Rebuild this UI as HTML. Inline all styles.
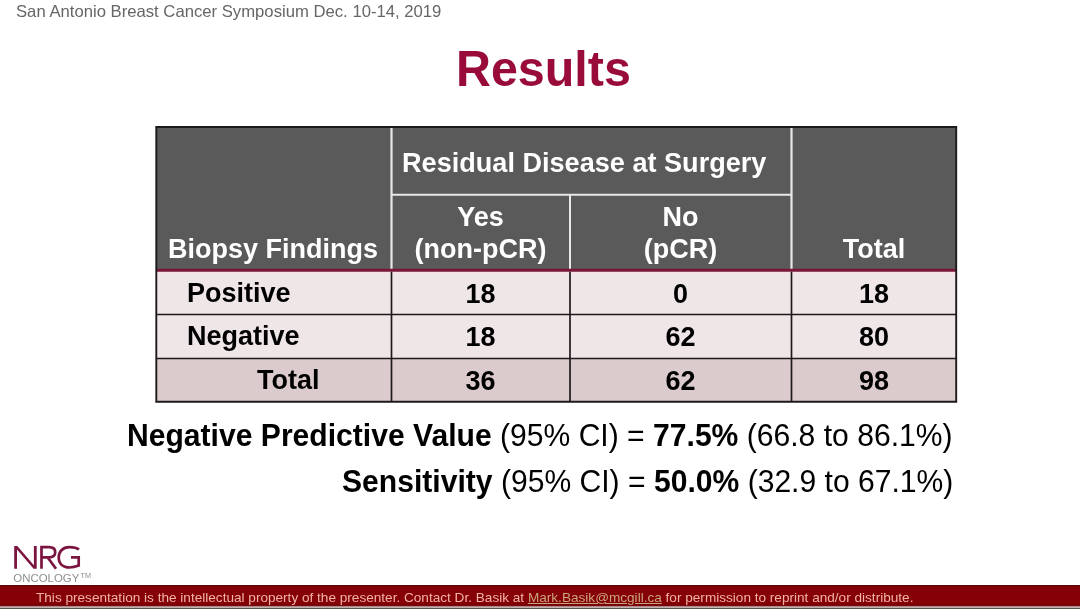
<!DOCTYPE html>
<html><head><meta charset="utf-8">
<style>
html,body{margin:0;padding:0;background:#fff;}
body{width:1080px;height:609px;position:relative;overflow:hidden;font-family:"Liberation Sans",sans-serif;}
.a{position:absolute;}
.t{position:absolute;white-space:nowrap;line-height:1;transform-origin:0 0.8467em;will-change:transform;}
.b{font-weight:bold;}
.w{color:#fff;}
.k{color:#000;}
.c{text-align:center;}
.tb{font-size:27px;font-weight:bold;transform:scaleY(1.04);}
</style></head><body>
<!-- header -->
<div class="t" style="left:16px;top:3.5px;font-size:16.68px;color:#666;">San Antonio Breast Cancer Symposium Dec. 10-14, 2019</div>
<div class="t b" style="left:456px;top:45.4px;font-size:48.4px;color:#990c3a;transform:scaleY(1.05);">Results</div>

<!-- table fills -->
<div class="a" style="left:156px;top:127px;width:800px;height:143px;background:#5a5a5a;"></div>
<div class="a" style="left:156px;top:271px;width:800px;height:88px;background:#efe6e8;"></div>
<div class="a" style="left:156px;top:359px;width:800px;height:43px;background:#dccbcd;"></div>
<!-- table lines -->
<svg class="a" style="left:0;top:0;" width="1080" height="609" viewBox="0 0 1080 609" shape-rendering="geometricPrecision">
 <g fill="none">
  <path stroke="#e8e8e8" stroke-width="2.2" d="M391.5 127 V269 M791.5 127 V269"/>
  <path stroke="#e8e8e8" stroke-width="2" d="M570 194.8 V269 M391.5 194.8 H791.5"/>
  <path stroke="#fbe2ea" stroke-width="1.6" d="M156 272.6 H956"/>
  <path stroke="#7a1636" stroke-width="2.9" d="M156 270.25 H956"/>
  <path stroke="#1e1a1c" stroke-width="1.7" d="M391.5 271.7 V401 M570 271.7 V401 M791.5 271.7 V401 M156 314.5 H956 M156 358.5 H956"/>
  <path stroke="#1e1a1c" stroke-width="1.9" d="M156.3 126 V402.8 M956.2 126 V402.8 M155.3 127.0 H957.2 M155.3 401.8 H957.2"/>
 </g>
</svg>

<!-- header text -->
<div class="t tb w" style="left:402px;top:148.5px;font-size:27.1px;">Residual Disease at Surgery</div>
<div class="t tb w" style="left:167.8px;top:235.8px;">Biopsy Findings</div>
<div class="t tb w c" style="left:391px;width:179px;top:203.5px;">Yes</div>
<div class="t tb w c" style="left:391px;width:179px;top:236px;">(non-pCR)</div>
<div class="t tb w c" style="left:570px;width:221px;top:203.5px;">No</div>
<div class="t tb w c" style="left:570px;width:221px;top:236px;">(pCR)</div>
<div class="t tb w c" style="left:791px;width:166px;top:235.5px;">Total</div>

<!-- body text -->
<div class="t tb k" style="left:187px;top:280px;">Positive</div>
<div class="t tb k" style="left:187px;top:323px;">Negative</div>
<div class="t tb k" style="left:257px;top:367px;">Total</div>
<div class="t tb k c" style="left:391px;width:179px;top:281px;">18</div>
<div class="t tb k c" style="left:391px;width:179px;top:324.3px;">18</div>
<div class="t tb k c" style="left:391px;width:179px;top:368px;">36</div>
<div class="t tb k c" style="left:570px;width:221px;top:281px;">0</div>
<div class="t tb k c" style="left:570px;width:221px;top:324.3px;">62</div>
<div class="t tb k c" style="left:570px;width:221px;top:368px;">62</div>
<div class="t tb k c" style="left:791px;width:166px;top:281px;">18</div>
<div class="t tb k c" style="left:791px;width:166px;top:324.3px;">80</div>
<div class="t tb k c" style="left:791px;width:166px;top:368px;">98</div>

<!-- stats -->
<div class="t k" style="right:127.6px;top:420.6px;font-size:30.1px;transform:scaleY(1.045);transform-origin:100% 0.8467em;"><b>Negative Predictive Value</b> (95% CI) = <b>77.5%</b> (66.8 to 86.1%)</div>
<div class="t k" style="right:126.3px;top:467.2px;font-size:30.1px;transform:scaleY(1.045);transform-origin:100% 0.8467em;"><b>Sensitivity</b> (95% CI) = <b>50.0%</b> (32.9 to 67.1%)</div>

<!-- logo -->
<svg class="a" style="left:0;top:530px;" width="110" height="55" viewBox="0 530 110 55">
 <path fill="#7c1440" d="M14.2 568.8 V546 H17.3 L33.9 565.2 V546 H36.7 V568.8 H33.6 L17 549.6 V568.8 Z"/>
 <g fill="none" stroke="#7c1440" stroke-width="2.7" stroke-linejoin="miter">
  
  <path d="M41.5 568.8 V547.2 H49 C53.5 547.2 55.2 549.6 55.2 552.2 C55.2 555 53.2 557.3 49 557.3 H41.5 M47.5 557.3 L56 568.8"/>
  <path d="M79 549.5 C76.5 547.6 73 547.2 69.3 547.2 C62.5 547.2 58.7 551.8 58.7 557.5 C58.7 563.5 62.8 567.5 69.3 567.5 C73.5 567.5 76.5 566.5 78.7 565.6 V557.3 H71"/>
 </g>
 <text x="13.3" y="581.8" font-family="Liberation Sans" font-size="11.6" fill="#8e8e8e" textLength="66" lengthAdjust="spacingAndGlyphs">ONCOLOGY</text>
 <text x="80.5" y="578" font-family="Liberation Sans" font-size="7" fill="#8e8e8e" textLength="10.5" lengthAdjust="spacingAndGlyphs">TM</text>
</svg>

<!-- footer -->
<svg class="a" style="left:0;top:580px;" width="1080" height="29" viewBox="0 580 1080 29">
 <rect x="0" y="585" width="1080" height="21" fill="#860008"/>
 <rect x="0" y="585" width="1080" height="1.3" fill="#5a0006"/>
 <rect x="0" y="585.8" width="1080" height="1" fill="#700008"/>
 <rect x="0" y="604.4" width="1080" height="1.4" fill="#720008"/>
 <rect x="0" y="605.8" width="1080" height="0.9" fill="#7a3a3a"/>
 <rect x="0" y="606.7" width="1080" height="1.1" fill="#d8bcbc"/>
 <rect x="0" y="607.8" width="1080" height="1.2" fill="#56554e"/>
</svg>
<div class="t" style="left:35.5px;top:590.9px;font-size:13.6px;color:#f2b4a4;">This presentation is the intellectual property of the presenter. Contact Dr. Basik at <span style="color:#c9a57a;text-decoration:underline;">Mark.Basik@mcgill.ca</span> for permission to reprint and/or distribute.</div>
</body></html>
